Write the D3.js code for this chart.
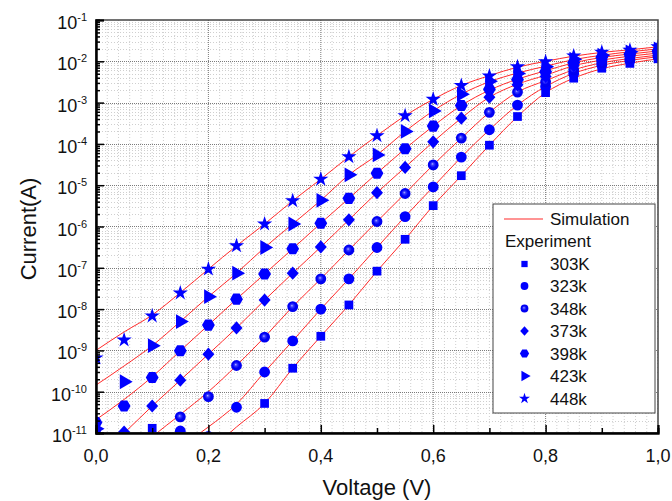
<!DOCTYPE html>
<html><head><meta charset="utf-8">
<script src="https://cdn.jsdelivr.net/npm/d3@7"></script>
<style>
body{margin:0;background:#fff}
svg{display:block}
text{font-family:"Liberation Sans",Arial,sans-serif;fill:#111}
</style>
</head><body>
<svg id="chart" width="672" height="501"></svg>
<script>
// ---------------- data ----------------
const voltage = [0.00,0.05,0.10,0.15,0.20,0.25,0.30,0.35,0.40,0.45,0.50,0.55,0.60,0.65,0.70,0.75,0.80,0.85,0.90,0.95,1.00];
const seriesLabels = ["303K","323k","348k","373k","398k","423k","448k"];

// Experiment (A)
const exp303K = [1.0e-11,2.5e-12,1.3e-11,3.2e-12,3.2e-12,4.0e-12,5.2e-11,3.7e-10,2.2e-9,1.26e-8,8.3e-8,4.9e-7,3.2e-6,1.7e-5,9.3e-5,4.6e-4,1.74e-3,3.9e-3,6.8e-3,8.9e-3,1.15e-2];
const exp323k = [8.0e-12,2.5e-12,3.2e-12,1.12e-11,8.3e-12,4.2e-11,3.0e-10,1.7e-9,1.0e-8,5.4e-8,3.1e-7,1.74e-6,9.1e-6,4.8e-5,2.2e-4,8.7e-4,2.45e-3,5.1e-3,8.1e-3,1.05e-2,1.29e-2];
const exp348k = [8.9e-12,3.2e-12,4.0e-12,2.45e-11,7.6e-11,4.3e-10,2.1e-9,1.15e-8,5.4e-8,2.7e-7,1.32e-6,6.3e-6,3.1e-5,1.38e-4,5.8e-4,1.8e-3,3.2e-3,6.2e-3,9.3e-3,1.17e-2,1.41e-2];
const exp373k = [1.0e-11,1.05e-11,4.5e-11,1.9e-10,8.1e-10,3.5e-9,1.65e-8,7.4e-8,3.2e-7,1.45e-6,6.6e-6,2.7e-5,1.12e-4,4.2e-4,1.35e-3,2.7e-3,4.3e-3,7.8e-3,1.07e-2,1.35e-2,1.58e-2];
const exp398k = [1.8e-11,4.5e-11,2.2e-10,9.8e-10,4.1e-9,1.74e-8,7.1e-8,2.9e-7,1.2e-6,4.8e-6,1.95e-5,7.6e-5,2.7e-4,8.5e-4,2.1e-3,3.6e-3,5.6e-3,9.3e-3,1.26e-2,1.5e-2,1.78e-2];
const exp423k = [1.26e-11,1.74e-10,1.3e-9,5.0e-9,2.0e-8,7.4e-8,3.1e-7,1.15e-6,4.3e-6,1.78e-5,5.4e-5,2.0e-4,6.3e-4,1.6e-3,3.3e-3,5.1e-3,7.4e-3,1.12e-2,1.41e-2,1.7e-2,2.0e-2];
const exp448k = [6.6e-10,1.78e-9,6.8e-9,2.45e-8,9.3e-8,3.4e-7,1.15e-6,4.2e-6,1.4e-5,4.9e-5,1.58e-4,4.8e-4,1.2e-3,2.6e-3,4.4e-3,7.4e-3,9.8e-3,1.35e-2,1.66e-2,1.86e-2,2.24e-2];

// Simulation (A)
const sim303K = [1.0e-14,4.0e-14,1.6e-13,8.0e-13,3.5e-12,1.4e-11,5.2e-11,3.7e-10,2.2e-9,1.26e-8,8.3e-8,4.9e-7,3.2e-6,1.7e-5,9.3e-5,4.6e-4,1.74e-3,3.9e-3,6.6e-3,9.0e-3,1.15e-2];
const sim323k = [5.0e-14,2.5e-13,1.0e-12,4.5e-12,1.4e-11,5.0e-11,3.0e-10,1.7e-9,1.0e-8,5.4e-8,3.1e-7,1.74e-6,9.1e-6,4.8e-5,2.2e-4,8.7e-4,2.45e-3,5.1e-3,8.0e-3,1.05e-2,1.29e-2];
const sim348k = [2.0e-13,1.6e-12,7.9e-12,2.8e-11,1.0e-10,4.3e-10,2.1e-9,1.15e-8,5.4e-8,2.7e-7,1.32e-6,6.3e-6,3.1e-5,1.38e-4,5.8e-4,1.8e-3,3.4e-3,6.2e-3,9.2e-3,1.17e-2,1.41e-2];
const sim373k = [2.5e-12,1.0e-11,4.5e-11,1.9e-10,8.1e-10,3.5e-9,1.65e-8,7.4e-8,3.2e-7,1.45e-6,6.6e-6,2.7e-5,1.12e-4,4.2e-4,1.35e-3,2.8e-3,4.6e-3,7.8e-3,1.07e-2,1.33e-2,1.58e-2];
const sim398k = [2.1e-11,6.5e-11,2.3e-10,9.8e-10,4.1e-9,1.74e-8,7.1e-8,2.9e-7,1.2e-6,4.8e-6,1.95e-5,7.6e-5,2.7e-4,8.5e-4,2.0e-3,3.7e-3,5.9e-3,9.2e-3,1.24e-2,1.5e-2,1.78e-2];
const sim423k = [1.45e-10,4.2e-10,1.3e-9,5.0e-9,2.0e-8,7.4e-8,3.1e-7,1.15e-6,4.3e-6,1.78e-5,5.4e-5,2.0e-4,6.3e-4,1.6e-3,3.2e-3,5.2e-3,7.6e-3,1.1e-2,1.4e-2,1.7e-2,2.0e-2];
const sim448k = [1.0e-9,2.8e-9,7.2e-9,2.5e-8,9.3e-8,3.4e-7,1.15e-6,4.2e-6,1.4e-5,4.9e-5,1.58e-4,4.8e-4,1.2e-3,2.6e-3,4.5e-3,7.2e-3,1.0e-2,1.33e-2,1.64e-2,1.9e-2,2.24e-2];

const expSeries = [exp303K,exp323k,exp348k,exp373k,exp398k,exp423k,exp448k];
const simSeries = [sim303K,sim323k,sim348k,sim373k,sim398k,sim423k,sim448k];
const markerKinds = ["square","circle","sphere","diamond","hexagon","triangle","star"];

const xTickValues = [0,0.2,0.4,0.6,0.8,1.0];
const xTickLabels = ["0,0","0,2","0,4","0,6","0,8","1,0"];
const yTickValues = [1e-11,1e-10,1e-9,1e-8,1e-7,1e-6,1e-5,1e-4,1e-3,1e-2,1e-1];
const yTickExps = ["-11","-10","-9","-8","-7","-6","-5","-4","-3","-2","-1"];

// ---------------- layout ----------------
const L = 96, R = 658, T = 20, B = 433;
const BLUE = "#0000ff", RED = "#ff2a2a";

const svg = d3.select("#chart");
const x = d3.scaleLinear().domain([0,1]).range([L,R]);
const y = d3.scaleLog().domain([1e-11,1e-1]).range([B,T]);

const defs = svg.append("defs");
defs.append("clipPath").attr("id","plotclip").append("rect")
  .attr("x",L).attr("y",T).attr("width",R-L).attr("height",B-T);
const grad = defs.append("radialGradient").attr("id","sphereGrad")
  .attr("cx","50%").attr("cy","50%").attr("r","55%").attr("fx","42%").attr("fy","40%");
grad.append("stop").attr("offset","0%").attr("stop-color","#b4b4ff");
grad.append("stop").attr("offset","22%").attr("stop-color","#3c3cff");
grad.append("stop").attr("offset","55%").attr("stop-color","#0000f4");
grad.append("stop").attr("offset","100%").attr("stop-color","#0000ee");

// ---------------- grid ----------------
const grid = svg.append("g");
const minorX = d3.range(0.02,1.0,0.02).filter(v => Math.abs(v*5 - Math.round(v*5)) > 1e-6);
grid.selectAll(".gxm").data(minorX).join("line")
  .attr("x1",d=>x(d)).attr("x2",d=>x(d)).attr("y1",T).attr("y2",B)
  .attr("stroke","#cfcfcf").attr("stroke-width",1).attr("stroke-dasharray","1,2");
const minorY = [];
for (let e=-11;e<-1;e++) for (let k=2;k<=9;k++) minorY.push(k*Math.pow(10,e));
grid.selectAll(".gym").data(minorY).join("line")
  .attr("x1",L).attr("x2",R).attr("y1",d=>Math.round(y(d))+0.5).attr("y2",d=>Math.round(y(d))+0.5)
  .attr("stroke","#cfcfcf").attr("stroke-width",1).attr("stroke-dasharray","1,2");
grid.selectAll(".gxM").data(xTickValues.slice(1,-1)).join("line")
  .attr("x1",d=>x(d)).attr("x2",d=>x(d)).attr("y1",T).attr("y2",B)
  .attr("stroke","#7a7a7a").attr("stroke-width",1).attr("stroke-dasharray","1,1");
grid.selectAll(".gyM").data(yTickValues.slice(1,-1)).join("line")
  .attr("x1",L).attr("x2",R).attr("y1",d=>Math.round(y(d))+0.5).attr("y2",d=>Math.round(y(d))+0.5)
  .attr("stroke","#7a7a7a").attr("stroke-width",1).attr("stroke-dasharray","1,1");

// ---------------- simulation lines ----------------
const plot = svg.append("g").attr("clip-path","url(#plotclip)");
const line = d3.line().x((d,i)=>x(voltage[i])).y(d=>y(d)).curve(d3.curveMonotoneX);
plot.selectAll(".sim").data(simSeries).join("path")
  .attr("d",line).attr("fill","none").attr("stroke",RED).attr("stroke-width",1);

// ---------------- markers ----------------
function hexPath(r){
  const pts = d3.range(6).map(i=>{const a=i*Math.PI/3;return [r*Math.cos(a), r*Math.sin(a)];});
  return "M"+pts.map(p=>p.join(",")).join("L")+"Z";
}
function diamondPath(w,h){ return `M0,${-h}L${w},0L0,${h}L${-w},0Z`; }
function drawMarker(g, kind, s){
  switch(kind){
    case "square": return g.append("path").attr("d",d3.symbol(d3.symbolSquare,76*s*s)()).attr("fill",BLUE);
    case "circle": return g.append("path").attr("d",d3.symbol(d3.symbolCircle,92*s*s)()).attr("fill",BLUE);
    case "sphere": return g.append("path").attr("d",d3.symbol(d3.symbolCircle,92*s*s)()).attr("fill","url(#sphereGrad)");
    case "diamond": return g.append("path").attr("d",diamondPath(6*s,6.6*s)).attr("fill",BLUE);
    case "hexagon": return g.append("path").attr("d",hexPath(6.4*s)).attr("fill",BLUE);
    case "triangle": return g.append("path").attr("d",d3.symbol(d3.symbolTriangle,95*s*s)()).attr("transform","rotate(90)").attr("fill",BLUE);
    case "star": return g.append("path").attr("d",d3.symbol(d3.symbolStar,72*s*s)()).attr("fill",BLUE);
  }
}
expSeries.forEach((vals,si)=>{
  const g = plot.append("g");
  vals.forEach((v,i)=>{
    const mg = g.append("g").attr("transform",`translate(${x(voltage[i])},${y(v)})`);
    drawMarker(mg, markerKinds[si], 1);
  });
});

// ---------------- axes ----------------
const ax = svg.append("g");
ax.append("rect").attr("x",L).attr("y",T).attr("width",R-L).attr("height",B-T)
  .attr("fill","none").attr("stroke","#444").attr("stroke-width",1.5);
const xMinor = [0.1,0.3,0.5,0.7,0.9];
const gx = ax.append("g").attr("transform",`translate(0,${B})`);
gx.call(d3.axisBottom(x).tickValues(xTickValues).tickSize(-8).tickFormat(""));
gx.append("g").call(d3.axisBottom(x).tickValues(xMinor).tickSize(-5).tickFormat(""));
gx.selectAll(".domain").attr("stroke","#000").attr("stroke-width",2);
gx.selectAll(".tick line").attr("stroke","#000").attr("stroke-width",1.5);
const gy = ax.append("g").attr("transform",`translate(${L},0)`);
gy.call(d3.axisLeft(y).tickValues(yTickValues).tickSize(-8).tickFormat(""));
gy.append("g").call(d3.axisLeft(y).tickValues(minorY).tickSize(-4).tickFormat(""));
gy.selectAll(".domain").attr("stroke","#000").attr("stroke-width",2);
gy.selectAll(".tick line").attr("stroke","#000").attr("stroke-width",1.5);

ax.selectAll(".xl").data(xTickValues).join("text")
  .attr("x",d=>x(d)).attr("y",B+29).attr("text-anchor","middle")
  .attr("font-size",18).text((d,i)=>xTickLabels[i]);
const yl = ax.selectAll(".yl").data(yTickValues).join("text")
  .attr("x",L-9).attr("y",d=>y(d)+9).attr("text-anchor","end").attr("font-size",18);
yl.append("tspan").text("10");
yl.append("tspan").attr("dy",-8).attr("font-size",11).text((d,i)=>yTickExps[i]);

svg.append("text").attr("x",(L+R)/2).attr("y",495).attr("text-anchor","middle")
  .attr("font-size",22).text("Voltage (V)");
svg.append("text").attr("transform","translate(36,229) rotate(-90)").attr("text-anchor","middle")
  .attr("font-size",22).text("Current(A)");

// ---------------- legend ----------------
const lg = svg.append("g");
lg.append("rect").attr("x",493).attr("y",204).attr("width",162).attr("height",209)
  .attr("fill","#fff").attr("stroke","#444").attr("stroke-width",1);
lg.append("line").attr("x1",504).attr("x2",543).attr("y1",219).attr("y2",219)
  .attr("stroke",RED).attr("stroke-width",1.2);
lg.append("text").attr("x",550).attr("y",225).attr("font-size",17).text("Simulation");
lg.append("text").attr("x",505).attr("y",247).attr("font-size",17).text("Experiment");
const legendRows = [264,286,308.5,331,353.5,376,398.5];
seriesLabels.forEach((lab,i)=>{
  const mg = lg.append("g").attr("transform",`translate(524.5,${legendRows[i]})`);
  drawMarker(mg, markerKinds[i], 0.72);
  lg.append("text").attr("x",550).attr("y",legendRows[i]+6).attr("font-size",17).text(lab);
});
</script>
</body></html>
